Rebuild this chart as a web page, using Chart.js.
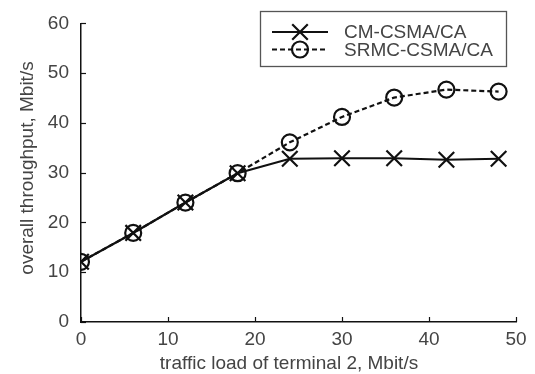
<!DOCTYPE html>
<html>
<head>
<meta charset="utf-8">
<script src="https://cdn.jsdelivr.net/npm/chart.js@4"></script>
<style>
    body { margin: 0; background: #fff; }
    .chart-wrap { width: 535px; height: 374px; }
</style>
</head>
<body>
<div class="chart-wrap"><canvas id="myChart" width="535" height="374"></canvas></div>
<script>
    // values
    const loads = [0, 6, 12, 18, 24, 30, 36, 42, 48]
    const cmValues = [12.1, 17.9, 24.0, 29.9, 32.8, 32.9, 32.9, 32.6, 32.8]
    const srmcValues = [12.1, 17.9, 24.0, 29.9, 36.1, 41.2, 45.1, 46.7, 46.3]
    const seriesNames = ['CM-CSMA/CA', 'SRMC-CSMA/CA']
    const xTicks = [0, 10, 20, 30, 40, 50]
    const yTicks = [0, 10, 20, 30, 40, 50, 60]
    const xTitle = 'traffic load of terminal 2, Mbit/s'
    const yTitle = 'overall throughput, Mbit/s'

    const FONT = "'Liberation Sans', Arial, Helvetica, sans-serif"
    const TEXT = '#444'
    const INK = '#111'

    // short tick marks pointing into the plot
    const innerTicks = {
        id: 'innerTicks',
        afterDatasetsDraw(chart) {
            const { ctx, scales: { x, y } } = chart
            ctx.save()
            ctx.strokeStyle = INK
            ctx.lineWidth = 1.2
            x.ticks.forEach(t => {
                const px = Math.round(x.getPixelForValue(t.value)) + 0.5
                ctx.beginPath()
                ctx.moveTo(px, x.top)
                ctx.lineTo(px, x.top - 5)
                ctx.stroke()
            })
            y.ticks.forEach(t => {
                const py = Math.round(y.getPixelForValue(t.value)) + 0.5
                ctx.beginPath()
                ctx.moveTo(y.right, py)
                ctx.lineTo(y.right + 5, py)
                ctx.stroke()
            })
            ctx.restore()
        }
    }

    // axis titles (the x one sits a bit left of the plot centre in the original)
    const axisTitles = {
        id: 'axisTitles',
        afterDraw(chart) {
            const ctx = chart.ctx
            ctx.save()
            ctx.fillStyle = TEXT
            ctx.font = '19px ' + FONT
            ctx.textAlign = 'center'
            ctx.textBaseline = 'alphabetic'
            ctx.fillText(xTitle, 289, 369)
            ctx.translate(33, 168)
            ctx.rotate(-Math.PI / 2)
            ctx.fillText(yTitle, 0, 0)
            ctx.restore()
        }
    }

    // boxed legend with line + marker samples
    const boxLegend = {
        id: 'boxLegend',
        afterDraw(chart) {
            const ctx = chart.ctx
            ctx.save()
            ctx.strokeStyle = '#555'
            ctx.lineWidth = 1.3
            ctx.strokeRect(260.5, 11.5, 246, 55)
            chart.data.datasets.forEach((ds, i) => {
                const y = 32 + i * 17.5
                ctx.strokeStyle = ds.borderColor
                ctx.lineWidth = ds.borderWidth
                ctx.setLineDash(ds.borderDash || [])
                ctx.beginPath()
                ctx.moveTo(272, y)
                ctx.lineTo(328, y)
                ctx.stroke()
                ctx.setLineDash([])
                ctx.fillStyle = 'rgba(0,0,0,0)'
                Chart.helpers.drawPoint(ctx, {
                    pointStyle: ds.pointStyle,
                    radius: ds.pointRadius,
                    borderWidth: ds.pointBorderWidth
                }, 300, y)
                ctx.fillStyle = TEXT
                ctx.font = '19px ' + FONT
                ctx.textBaseline = 'middle'
                ctx.textAlign = 'left'
                ctx.fillText(ds.label, 344, y + 1)
            })
            ctx.restore()
        }
    }

    const data = {
        datasets: [{
            label: seriesNames[0],
            data: loads.map((v, i) => ({ x: v, y: cmValues[i] })),
            borderColor: INK,
            borderWidth: 2.2,
            pointStyle: 'crossRot',
            pointRadius: 11,
            pointBorderWidth: 2.2,
            pointBorderColor: INK,
            pointBackgroundColor: 'rgba(0,0,0,0)',
            tension: 0
        }, {
            label: seriesNames[1],
            data: loads.map((v, i) => ({ x: v, y: srmcValues[i] })),
            borderColor: INK,
            borderWidth: 2.2,
            borderDash: [5, 3],
            pointStyle: 'circle',
            pointRadius: 8,
            pointBorderWidth: 2.2,
            pointBorderColor: INK,
            pointBackgroundColor: 'rgba(0,0,0,0)',
            tension: 0
        }]
    }

    const config = {
        type: 'line',
        data: data,
        options: {
            responsive: false,
            animation: false,
            layout: { padding: { top: 15, right: 19, left: 0, bottom: 0 } },
            plugins: {
                legend: { display: false },
                tooltip: { enabled: false }
            },
            scales: {
                x: {
                    type: 'linear',
                    min: 0,
                    max: 50,
                    afterBuildTicks: s => { s.ticks = xTicks.map(v => ({ value: v })) },
                    afterFit: s => { s.height = 52 },
                    grid: { display: true, drawOnChartArea: false, drawTicks: false },
                    border: { display: true, color: INK, width: 1.5 },
                    ticks: { color: TEXT, font: { family: FONT, size: 19 }, padding: 6, maxRotation: 0 }
                },
                y: {
                    min: 0,
                    max: 60,
                    afterBuildTicks: s => { s.ticks = yTicks.map(v => ({ value: v })) },
                    afterFit: s => { s.width = 81 },
                    grid: { display: true, drawOnChartArea: false, drawTicks: false },
                    border: { display: true, color: INK, width: 1.5 },
                    ticks: { color: TEXT, font: { family: FONT, size: 19 }, padding: 12 }
                }
            }
        },
        plugins: [innerTicks, axisTitles, boxLegend]
    }

    const myChart = new Chart(document.getElementById('myChart'), config)
</script>
</body>
</html>
